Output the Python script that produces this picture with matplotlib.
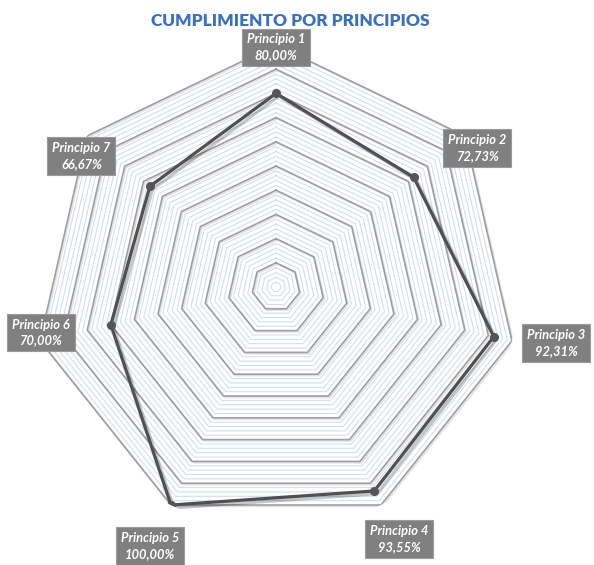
import numpy as np
import matplotlib
matplotlib.use("Agg")
import matplotlib.pyplot as plt
import matplotlib.patheffects as pe

categories = ["Principio 1", "Principio 2", "Principio 3", "Principio 4",
              "Principio 5", "Principio 6", "Principio 7"]
values = [0.80, 0.7273, 0.9231, 0.9355, 1.00, 0.70, 0.6667]
value_labels = ["80,00%", "72,73%", "92,31%", "93,55%", "100,00%", "70,00%", "66,67%"]
title = "CUMPLIMIENTO POR PRINCIPIOS"

# layout (label placement in polar terms: angle offset in degrees, radius)
label_pos = [(0.0, 0.99), (4.0, 1.01), (-1.5, 1.18), (-0.3, 1.16),
             (0.3, 1.19), (1.9, 0.99), (-4.6, 0.97)]

W, H = 594, 565
fig = plt.figure(figsize=(W / 100, H / 100), dpi=100)
cx, cy, R = 276, 287, 242
ax = fig.add_axes([(cx - R) / W, (H - cy - R) / H, 2 * R / W, 2 * R / H],
                  projection="polar")
ax.set_theta_offset(np.pi / 2)
ax.set_theta_direction(-1)
ax.set_ylim(0, 1)
ax.grid(False)
ax.set_xticks([])
ax.set_yticks([])
ax.spines["polar"].set_visible(False)
ax.patch.set_alpha(0)

n = len(categories)
angles = np.arange(n) * 2 * np.pi / n
closed = np.concatenate([angles, angles[:1]])

# minor gridlines
for lvl in np.arange(0.02, 1.0001, 0.02):
    if abs(lvl * 10 - round(lvl * 10)) < 1e-6:
        continue
    ax.plot(closed, [lvl] * (n + 1), color="#d3dce7", lw=0.75, zorder=1)
# major gridlines
for lvl in np.arange(0.1, 1.0001, 0.1):
    ax.plot(closed, [lvl] * (n + 1), color="#9e9e9e", lw=1.2, zorder=2,
            path_effects=[pe.SimpleLineShadow(offset=(1, -1), shadow_color="#bbbbbb", alpha=0.4),
                          pe.Normal()])

vals = np.array(values + values[:1])
ax.plot(closed, vals, color="#505050", lw=2.3, zorder=5, solid_joinstyle="round",
        path_effects=[pe.SimpleLineShadow(offset=(2, -2), shadow_color="#000000", alpha=0.22),
                      pe.Normal()])
ax.plot(angles, values, "o", color="#555555", ms=5.5, zorder=6)

for i in range(n):
    da, rr = label_pos[i]
    ax.text(angles[i] + np.deg2rad(da), rr, f"{categories[i]}\n{value_labels[i]}",
            ha="center", va="center", color="white", fontsize=9.3,
            fontweight="bold", style="italic", family="Lato", linespacing=1.4,
            bbox=dict(boxstyle="square,pad=0.38", fc="#808080", ec="#9a9a9a", lw=0.8),
            zorder=10, clip_on=False)

fig.text(290 / W, 1 - 21 / H, title, ha="center", va="center",
         color="#3a70c0", fontsize=12.4, fontweight="heavy", family="Lato")

fig.savefig("out.png", dpi=100, facecolor="white")
